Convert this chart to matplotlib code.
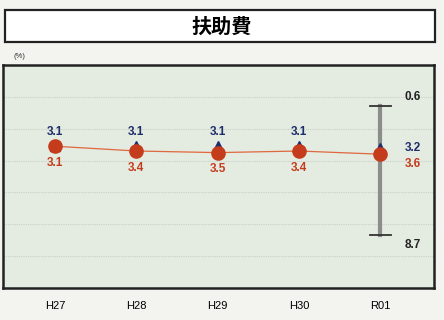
import matplotlib.pyplot as plt
from matplotlib.patches import Rectangle

years = ["H27", "H28", "H29", "H30", "R01"]
blue_vals = [3.1, 3.1, 3.1, 3.1, 3.2]
red_vals = [3.1, 3.4, 3.5, 3.4, 3.6]
range_top = 0.6
range_bottom = 8.7

RED = "#c43c1c"
NAVY = "#1e2d6b"

plt.rcParams["font.family"] = ["Liberation Sans", "DejaVu Sans"]

fig = plt.figure(figsize=(4.44, 3.2), dpi=100)
fig.patch.set_facecolor("#f3f4f0")

# title box
fig.patches.append(Rectangle((5 / 444, 1 - 42 / 320), 430 / 444, 32 / 320,
                             transform=fig.transFigure, facecolor="white",
                             edgecolor="#222222", linewidth=1.6))
fig.text(0.5, 1 - 26 / 320, "扶助費", ha="center", va="center", fontsize=14.5,
         fontweight="bold", family=["Noto Sans CJK JP", "DejaVu Sans"])
fig.text(14 / 444, 1 - 57 / 320, "(%)", ha="left", va="center", fontsize=5.5,
         color="#333333")

ax = fig.add_axes([3 / 444, 1 - 288 / 320, 431 / 444, 223 / 320])
ax.set_facecolor("#e4ebe1")
x = list(range(len(years)))

ax.set_ylim(12, -2)
ax.set_xlim(-0.64, 4.66)
ax.set_yticks([0, 2, 4, 6, 8, 10])
ax.yaxis.grid(True, color="#c9d0c8", linestyle=(0, (1, 1)), linewidth=0.8)
ax.tick_params(axis="y", left=False, labelleft=False)
ax.set_xticks(x)
ax.set_xticklabels(years, fontsize=8)
ax.tick_params(axis="x", bottom=False, pad=6)
for s in ax.spines.values():
    s.set_color("#222222")
    s.set_linewidth(1.8)

# range bar for latest year
ax.plot([4, 4], [range_top, range_bottom], color="#8a8d8a", linewidth=3, zorder=2)
for yv in (range_top, range_bottom):
    ax.plot([3.87, 4.13], [yv, yv], color="#333333", linewidth=1.3, zorder=3)

ax.plot(x, blue_vals, linestyle="none", marker="^", markersize=7.5,
        color=NAVY, zorder=4)
ax.plot(x, red_vals, color="#e0683e", linewidth=0.9, marker="o",
        markersize=9.5, markerfacecolor=RED, markeredgecolor=RED, zorder=5)

for i in x[:-1]:
    ax.annotate(f"{blue_vals[i]:.1f}", (i, blue_vals[i]), xytext=(0, 10),
                textcoords="offset points", ha="center", va="center",
                fontsize=8.5, fontweight="bold", color=NAVY)
    ax.annotate(f"{red_vals[i]:.1f}", (i, red_vals[i]), xytext=(0, -12),
                textcoords="offset points", ha="center", va="center",
                fontsize=8.5, fontweight="bold", color=RED)

ax.text(4.3, blue_vals[4], f"{blue_vals[4]:.1f}", ha="left", va="center",
        fontsize=8.5, fontweight="bold", color=NAVY)
ax.text(4.3, red_vals[4] + 0.6, f"{red_vals[4]:.1f}", ha="left", va="center",
        fontsize=8.5, fontweight="bold", color=RED)
ax.text(4.3, range_top - 0.6, f"{range_top:.1f}", ha="left", va="center",
        fontsize=8.5, fontweight="bold", color="#222222")
ax.text(4.3, range_bottom + 0.6, f"{range_bottom:.1f}", ha="left", va="center",
        fontsize=8.5, fontweight="bold", color="#222222")

fig.savefig("out.png", dpi=100, facecolor=fig.get_facecolor())
